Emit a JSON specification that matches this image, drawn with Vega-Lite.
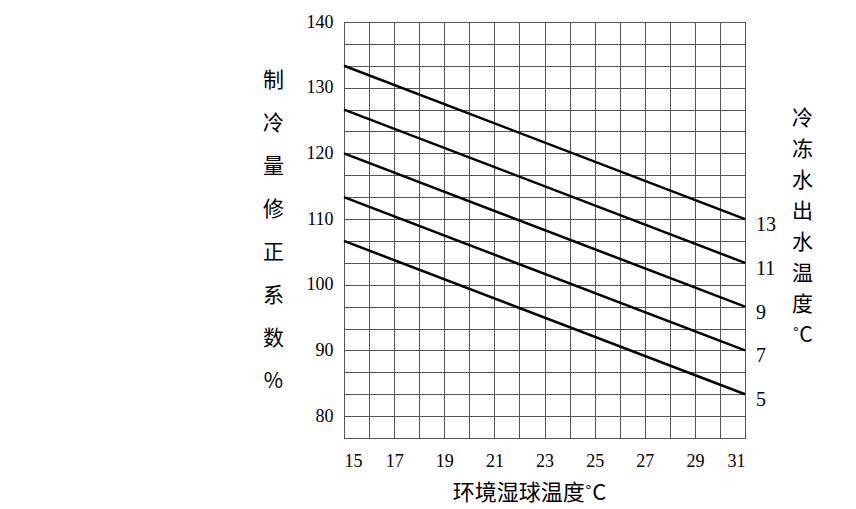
{
  "$schema": "https://vega.github.io/schema/vega-lite/v6.json",
  "width": 401,
  "height": 416,
  "autosize": {"type": "none"},
  "padding": {"left": 344, "top": 22, "right": 111, "bottom": 71},
  "background": "white",
  "config": {
    "view": {"stroke": "black", "strokeWidth": 1},
    "font": "Liberation Serif, Noto Sans CJK SC",
    "axis": {
      "labelFont": "Liberation Serif",
      "labelFontSize": 18,
      "labelColor": "black",
      "labelOverlap": false,
      "titleFont": "Noto Sans CJK SC",
      "titleFontWeight": "normal",
      "titleColor": "black",
      "gridColor": "#555",
      "gridOpacity": 1,
      "gridWidth": 1,
      "ticks": false,
      "domain": false
    }
  },
  "data": {
    "values": [
      {"series": "13", "t": 15, "v": 133.333},
      {"series": "13", "t": 31, "v": 110},
      {"series": "11", "t": 15, "v": 126.667},
      {"series": "11", "t": 31, "v": 103.333},
      {"series": "9", "t": 15, "v": 120},
      {"series": "9", "t": 31, "v": 96.667},
      {"series": "7", "t": 15, "v": 113.333},
      {"series": "7", "t": 31, "v": 90},
      {"series": "5", "t": 15, "v": 106.667},
      {"series": "5", "t": 31, "v": 83.333}
    ]
  },
  "resolve": {"axis": {"y": "independent"}},
  "layer": [
    {
      "mark": {"type": "line", "color": "black", "strokeWidth": 2.5},
      "encoding": {
        "x": {
          "field": "t", "type": "quantitative",
          "scale": {"domain": [15, 31], "nice": false, "zero": false},
          "axis": {
            "values": [15,16,17,18,19,20,21,22,23,24,25,26,27,28,29,30,31],
            "tickCount": 50,
            "grid": true,
            "labelExpr": "datum.value % 2 == 1 ? format(datum.value, 'd') : ''",
            "labelPadding": 14,
            "title": "环境湿球温度˚C",
            "titleFontSize": 22,
            "titleX": 185,
            "titlePadding": 12
          }
        },
        "y": {
          "field": "v", "type": "quantitative",
          "scale": {"domain": [76.6667, 140], "nice": false, "zero": false},
          "axis": {
            "values": [76.6667,80,83.3333,86.6667,90,93.3333,96.6667,100,103.3333,106.6667,110,113.3333,116.6667,120,123.3333,126.6667,130,133.3333,136.6667,140],
            "tickCount": 50,
            "labelExpr": "(datum.value % 10 < 0.01 || datum.value % 10 > 9.99) ? format(round(datum.value), 'd') : ''",
            "labelPadding": 11,
            "title": ["制","冷","量","修","正","系","数","%"],
            "titleAngle": 0,
            "titleAlign": "center",
            "titleBaseline": "middle",
            "titleFontSize": 21,
            "titleLineHeight": 43,
            "titleX": -71,
            "titleY": 58
          }
        },
        "detail": {"field": "series"}
      }
    },
    {
      "transform": [{"filter": "datum.t == 31"}],
      "mark": {"type": "text", "align": "left", "dx": 11, "dy": 6, "fontSize": 20, "font": "Liberation Serif", "color": "black"},
      "encoding": {
        "x": {"field": "t", "type": "quantitative"},
        "y": {
          "field": "v", "type": "quantitative",
          "axis": {
            "orient": "right",
            "labels": false,
            "grid": false,
            "title": ["冷","冻","水","出","水","温","度","˚C"],
            "titleAngle": 0,
            "titleAlign": "center",
            "titleBaseline": "middle",
            "titleFontSize": 21,
            "titleLineHeight": 31,
            "titleX": 57,
            "titleY": 96
          }
        },
        "text": {"field": "series"}
      }
    }
  ]
}
